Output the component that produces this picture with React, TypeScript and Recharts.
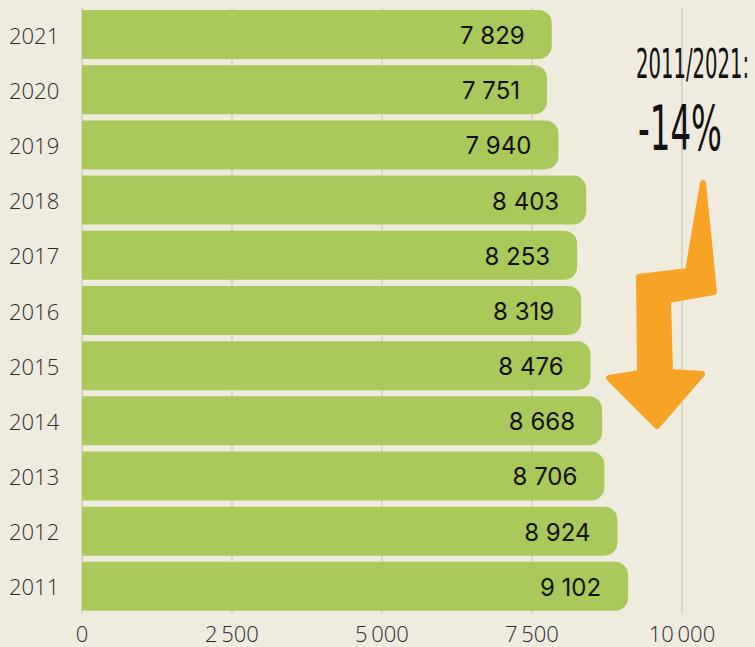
import React from "react";
import { BarChart, Bar, XAxis, YAxis, CartesianGrid, LabelList } from "recharts";

const years = ["2021", "2020", "2019", "2018", "2017", "2016", "2015", "2014", "2013", "2012", "2011"];
const values = [7829, 7751, 7940, 8403, 8253, 8319, 8476, 8668, 8706, 8924, 9102];
const xTicks = [0, 2500, 5000, 7500, 10000];
const annotationTitle = "2011/2021:";
const annotationValue = "-14%";

const data = years.map((y, i) => ({ year: y, value: values[i] }));

const BG = "#f0ebdf";
const GREEN = "#a9c95a";
const ORANGE = "#f7a325";

const fmt = (v: number) => {
  const s = String(v);
  return s.length > 3 ? s.slice(0, s.length - 3) + "\u2009" + s.slice(-3) : s;
};

const YTick = (props: any) => {
  const { y, payload } = props;
  return (
    <text x={9} y={y} textAnchor="start" dominantBaseline="central" fontFamily="'Open Sans', sans-serif" fontWeight={300} fontSize={22} fill="#2a2a2a">
      {payload.value}
    </text>
  );
};

const XTick = (props: any) => {
  const { x, y, payload } = props;
  return (
    <text x={x} y={y} textAnchor="middle" dy="0.71em" fontFamily="'Open Sans', sans-serif" fontWeight={300} fontSize={22} fill="#2a2a2a">
      {fmt(payload.value)}
    </text>
  );
};

const ValueLabel = (props: any) => {
  const { x, y, width, height, value } = props;
  return (
    <text x={x + width - 27} y={y + height / 2 + 1} textAnchor="end" dominantBaseline="central" fontFamily="Inter, 'Noto Sans', sans-serif" fontSize={24} fill="#111">
      {String(value).slice(0, -3) + " " + String(value).slice(-3)}
    </text>
  );
};

export default function App() {
  return (
    <div style={{ position: "absolute", left: 0, top: 0, width: 755, height: 647, background: BG, overflow: "hidden" }}>
      <BarChart
        width={755}
        height={647}
        data={data}
        layout="vertical"
        margin={{ top: 7, right: 73, bottom: 0, left: 0 }}
        barCategoryGap="5.5%"
      >
        <CartesianGrid horizontal={false} vertical={true} stroke="#c4c1b6" strokeWidth={1} />
        <XAxis
          type="number"
          domain={[0, 10000]}
          ticks={xTicks}
          axisLine={false}
          tickLine={false}
          tickSize={0}
          tickMargin={12}
          height={33}
          tick={<XTick />}
          interval={0}
        />
        <YAxis
          type="category"
          dataKey="year"
          width={82}
          axisLine={false}
          tickLine={false}
          tick={<YTick />}
          interval={0}
        />
        <Bar dataKey="value" fill={GREEN} radius={[0, 13, 13, 0]} isAnimationActive={false}>
          <LabelList dataKey="value" content={<ValueLabel />} />
        </Bar>
      </BarChart>
      <svg width={755} height={647} style={{ position: "absolute", left: 0, top: 0, pointerEvents: "none" }}>
        <path
          d="M 703,183 L 714,292 L 668,300 L 670,372 L 702,374 L 657,426 L 609,378 L 640,373 L 639,277 L 688,271 Z"
          fill={ORANGE}
          stroke={ORANGE}
          strokeWidth={6}
          strokeLinejoin="round"
        />
        <text x={636} y={78} fontFamily="'DejaVu Sans', sans-serif" fontWeight={400} fontSize={40} fill="#111" textLength={113} lengthAdjust="spacingAndGlyphs">
          {annotationTitle}
        </text>
        <text x={638} y={150} fontFamily="'DejaVu Sans', sans-serif" fontWeight={400} fontSize={62} fill="#111" textLength={84} lengthAdjust="spacingAndGlyphs">
          {annotationValue}
        </text>
      </svg>
    </div>
  );
}
